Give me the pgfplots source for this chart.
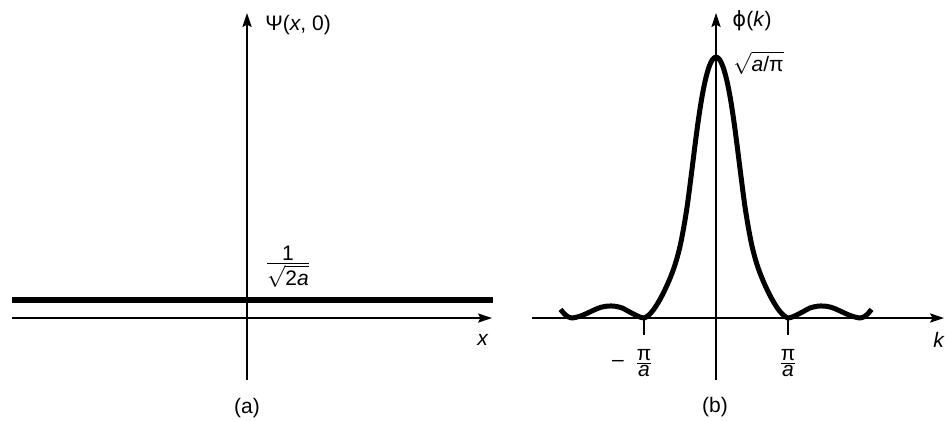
\documentclass[border=0pt]{standalone}
\usepackage{fontspec}
\setmainfont{Liberation Sans}
\newfontfamily\dv{DejaVu Sans}
\usepackage{pgfplots}
\pgfplotsset{compat=1.18}
\usetikzlibrary{arrows.meta}
\begin{document}
\begin{tikzpicture}[font=\fontsize{10.5}{12.6}\selectfont]
\useasboundingbox (0,0) rectangle (472.5pt,210pt);
\pgfplotsset{myax/.style={
  scale only axis, x=36pt, y=130.5pt, axis lines=middle,
  axis line style={line width=0.8pt, -{Stealth[length=7pt,width=4.6pt,inset=1.2pt]}},
  ymin=-0.2375, ymax=1.1686, clip=false, anchor=south west,
  xtick=\empty, ytick=\empty
}}
% (a)
\begin{axis}[myax, at={(6pt,20pt)}, xmin=-3.264, xmax=3.403]
\addplot[line width=2.6pt, black] coordinates {(-3.264,0.069) (3.417,0.069)};
\end{axis}
% (b)
\begin{axis}[myax, at={(266pt,20pt)}, xmin=-2.556, xmax=3.167]
\addplot[line width=0.8pt, black] coordinates {(-1,0) (-1,-0.0651)};
\addplot[line width=0.8pt, black] coordinates {(1,0) (1,-0.0651)};
\addplot[line width=2.5pt, black, smooth, line join=round] coordinates {
(-2.16,0.033) (-2.10,0.014) (-2.05,0.004) (-2.00,0.000) (-1.90,0.006) (-1.80,0.017)
(-1.70,0.030) (-1.60,0.041) (-1.50,0.046) (-1.40,0.045) (-1.30,0.038) (-1.20,0.023)
(-1.10,0.009) (-1.05,0.003) (-1.00,0.000) (-0.95,0.008) (-0.90,0.021) (-0.85,0.039)
(-0.80,0.061) (-0.75,0.086) (-0.70,0.114) (-0.65,0.145) (-0.60,0.180) (-0.55,0.222)
(-0.50,0.275) (-0.45,0.345) (-0.40,0.430) (-0.35,0.535) (-0.30,0.645) (-0.25,0.750)
(-0.20,0.840) (-0.15,0.910) (-0.10,0.960) (-0.05,0.990) (0,1)
(0.05,0.990) (0.10,0.960) (0.15,0.910) (0.20,0.840) (0.25,0.750) (0.30,0.645)
(0.35,0.535) (0.40,0.430) (0.45,0.345) (0.50,0.275) (0.55,0.222) (0.60,0.180)
(0.65,0.145) (0.70,0.114) (0.75,0.086) (0.80,0.061) (0.85,0.039) (0.90,0.021)
(0.95,0.008) (1.00,0.000) (1.05,0.003) (1.10,0.009) (1.20,0.023) (1.30,0.038)
(1.40,0.045) (1.50,0.046) (1.60,0.041) (1.70,0.030) (1.80,0.017) (1.90,0.006)
(2.00,0.000) (2.05,0.004) (2.10,0.014) (2.16,0.033)};
\end{axis}
% labels
\node[anchor=west, inner sep=0pt] at (132.5pt,197.5pt) {Ψ(\textit{x}, 0)};
\node[inner sep=0pt] at (144pt,76.5pt) {$\frac{\mbox{1}}{\sqrt{\mbox{2\itshape a}}}$};
\node[inner sep=0pt] at (241.5pt,40pt) {\textit{x}};
\node[inner sep=0pt] at (123.5pt,6pt) {(a)};
\node[anchor=west, inner sep=0pt] at (366pt,199.5pt) {{\dv ϕ}(\textit{k})};
\node[anchor=west, inner sep=0pt] at (366.5pt,178.5pt) {$\sqrt{\mbox{\itshape a\upshape/π}}$};
\node[inner sep=0pt] at (469.5pt,40pt) {\textit{k}};
\node[inner sep=0pt] at (394pt,28.5pt) {$\frac{\mbox{π}}{\mbox{\itshape a}}$};
\node[inner sep=0pt] at (322pt,28.5pt) {$\frac{\mbox{π}}{\mbox{\itshape a}}$};
\node[inner sep=0pt] at (309pt,28.5pt) {–};
\node[inner sep=0pt] at (357.5pt,6.5pt) {(b)};
\end{tikzpicture}
\end{document}
